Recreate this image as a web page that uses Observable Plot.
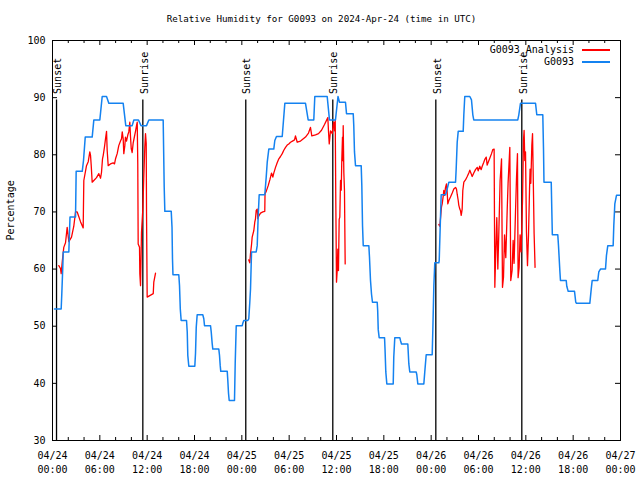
<!DOCTYPE html>
<html>
<head>
<meta charset="utf-8">
<script src="https://cdn.jsdelivr.net/npm/d3@7"></script>
<script src="https://cdn.jsdelivr.net/npm/@observablehq/plot@0.6"></script>
<style>
  body { margin: 0; background: #fff; }
  #wrap { position: relative; width: 640px; height: 480px; }
  .lg-text { position: absolute; font: 10px "DejaVu Sans Mono", monospace; line-height: 12px; color: #000; text-align: right; white-space: pre; }
  .lg-line { position: absolute; }
</style>
</head>
<body>
<div id="wrap"></div>
<script>
// ---------- chart text ----------
const title = "Relative Humidity for G0093 on 2024-Apr-24 (time in UTC)";
const yLabel = "Percentage";
const seriesNames = ["G0093_Analysis", "G0093"];
const seriesColors = ["#ff0000", "#1482f0"];

// ---------- axes ----------
const startDate = "2024-04-24T00:00:00Z";
const spanHours = 72;
const labelHours = [0, 6, 12, 18, 24, 30, 36, 42, 48, 54, 60, 66, 72];
const minorHours = [2, 4, 8, 10, 14, 16, 20, 22, 26, 28, 32, 34, 38, 40, 44, 46, 50, 52, 56, 58, 62, 64, 68, 70];
const yTicks = [30, 40, 50, 60, 70, 80, 90, 100];

// ---------- sun events (hours since start) ----------
const sunLabels = ["Sunset", "Sunrise", "Sunset", "Sunrise", "Sunset", "Sunrise"];
const sunHours = [0.51, 11.45, 24.50, 35.53, 48.59, 59.49];
const sunLineTop = 89.6;

// ---------- G0093 observations [hour, %] ----------
const observed = [
  [0.25,53],[1.10,53],[1.18,55.7],[1.31,60.6],[1.36,63],[2.07,63],[2.22,69.1],[2.92,69.1],[3.00,77.1],[3.77,77.1],
  [3.93,79],[4.15,83.1],[5.03,83.1],[5.24,86.1],[6.00,86.1],[6.30,90.2],[6.85,90.2],[7.14,89],[8.96,89],[9.29,85.1],
  [10.10,85.1],[10.31,86.1],[10.90,86.1],[11.22,85.1],[11.92,85.1],[12.21,86.1],[14.03,86.1],[14.16,74.3],[14.24,70.1],[15.05,70.1],
  [15.15,67.3],[15.21,61.8],[15.27,59],[16.01,59],[16.10,57.1],[16.20,53],[16.31,51],[16.99,51],[17.08,49],[17.15,44.9],
  [17.28,43],[18.04,43],[18.13,45.3],[18.22,49.8],[18.34,52],[19.05,52],[19.18,51.3],[19.27,50.1],[20.03,50.1],[20.12,49],
  [20.24,47],[20.32,46],[21.08,46],[21.17,44.9],[21.26,43.1],[21.33,42.1],[22.15,42.1],[22.22,40.6],[22.31,38.3],[22.40,37],
  [23.07,37],[23.16,43.5],[23.29,50.1],[24.05,50.1],[24.12,50.5],[24.25,51],[24.76,51],[24.88,51.3],[25.01,54.2],[25.10,56.5],
  [25.23,63],[25.82,63],[25.95,64.1],[26.07,69.1],[26.20,73],[26.91,73],[27.09,76.1],[27.22,78.7],[27.42,81],[28.05,81],
  [28.18,82.5],[28.39,83.2],[29.12,83.2],[29.45,89],[32.07,89],[32.41,86.1],[33.12,86.1],[33.25,90.2],[34.82,90.2],[35.11,86.1],
  [35.87,86.1],[36.19,90.2],[36.38,89.2],[37.14,89.2],[37.27,87.2],[38.12,87.2],[38.19,85.1],[38.28,80.5],[38.41,78.1],[39.13,78.1],
  [39.21,74.6],[39.30,67.6],[39.39,64.1],[40.10,64.1],[40.18,62.1],[40.31,58],[40.44,55.6],[40.56,54.2],[41.16,54.2],[41.22,52.75],
  [41.29,49.4],[41.41,48],[42.09,48],[42.15,46],[42.25,42],[42.38,39.9],[43.19,39.9],[43.26,44.6],[43.39,48],[44.03,48],
  [44.11,47.5],[44.24,46.9],[45.04,46.9],[45.17,43.4],[45.29,42],[46.10,42],[46.18,41.5],[46.31,39.9],[47.07,39.9],[47.19,42],
  [47.37,45],[48.13,45],[48.21,49.25],[48.34,57.1],[48.46,61.1],[48.97,61.1],[49.02,61.5],[49.15,67.6],[49.27,73],[49.82,73],
  [49.94,73.5],[50.24,75.2],[51.09,75.2],[51.17,77.5],[51.30,82.2],[51.43,84.1],[52.06,84.1],[52.14,87],[52.26,90.2],[52.90,90.2],
  [53.11,89.6],[53.28,87],[53.40,86.1],[58.98,86.1],[59.11,87],[59.32,89],[61.23,89],[61.39,87],[62.15,87],[62.24,81],
  [62.30,75.2],[63.22,75.2],[63.29,70.5],[63.36,66],[64.05,66],[64.14,64.1],[64.31,59.75],[64.39,58],[65.12,58],[65.19,57],
  [65.37,56.1],[66.17,56.1],[66.33,54.2],[66.42,54],[68.11,54],[68.29,56.5],[68.41,58],[69.12,58],[69.25,59.5],[69.46,60],
  [70.10,60],[70.22,62.4],[70.39,64.1],[71.07,64.1],[71.15,67.6],[71.28,71.4],[71.49,72.9],[71.91,72.9]
];

// ---------- G0093_Analysis, one array per night [hour, %] ----------
const analysisNight1 = [
  [0.80,60.6],[1.01,60.1],[1.10,59.2],[1.23,61.2],[1.43,63.8],[1.65,64.6],[1.86,67.3],[2.07,64.8],[2.41,65.6],[2.70,67.5],
  [2.92,70],[3.13,70],[3.33,69.2],[3.55,68.3],[3.89,67.2],[3.92,70.4],[3.97,75.5],[4.31,78.1],[4.53,78.8],[4.73,80.5],
  [4.82,79.9],[4.91,78.1],[5.03,75.2],[5.24,75.5],[5.58,76],[5.87,76.7],[6.09,75.9],[6.21,76.9],[6.34,79.3],[6.43,79.9],
  [6.59,81.4],[6.72,82.8],[6.85,84.1],[6.93,80.8],[7.06,78.1],[7.35,78.4],[7.69,78.6],[7.86,78.4],[7.99,79.3],[8.20,80.2],
  [8.40,81.6],[8.62,82.4],[8.75,82.8],[8.84,84],[8.96,82.8],[9.04,80.2],[9.17,81.6],[9.25,83.1],[9.38,82.4],[9.55,83.5],
  [9.67,84],[9.80,85.7],[9.89,83.1],[9.98,81.1],[10.10,80.4],[10.23,82.1],[10.39,83.2],[10.52,84.1],[10.65,85.1],[10.74,85.7],
  [10.81,78.4],[10.86,64.4],[11.03,63.8],[11.07,59.2],[11.16,57.1],[11.28,66.4],[11.45,70.5],[11.57,76],[11.70,81.3],[11.79,83.7],
  [11.88,82],[11.92,69.7],[12.00,55.1],[12.77,55.7],[12.84,57.7],[13.06,59.3]
];
const analysisNight2 = [
  [24.88,61.6],[25.01,61.1],[25.10,62.7],[25.23,64.3],[25.31,65.6],[25.52,66.75],[25.64,68.2],[25.73,68.8],[25.82,70.25],[25.95,70.5],
  [26.02,68.8],[26.15,69.3],[26.37,69.8],[26.66,70],[26.91,70.1],[26.94,73.2],[27.09,73.6],[27.34,74.6],[27.55,75.6],[27.76,76.8],
  [27.93,76.1],[28.05,76.8],[28.27,77.8],[28.48,78.6],[28.69,79.3],[28.90,79.7],[29.12,80.2],[29.32,80.8],[29.54,81.3],[29.75,81.7],
  [29.95,81.9],[30.17,82.2],[30.42,82.4],[30.68,82.6],[30.80,83.3],[31.02,82.2],[31.44,82.4],[32.07,83.1],[32.45,83.8],[32.70,84.8],
  [32.87,83.3],[33.34,83.5],[33.72,83.7],[34.10,84.3],[34.48,85.3],[34.90,86.5],[34.99,84],[35.08,81.9],[35.24,84.2],[35.46,83.7],
  [35.58,85.1],[35.66,85.7],[35.75,84.2],[35.84,86],[35.91,72],[36.00,57.7],[36.09,59.75],[36.17,63.5],[36.25,59.75],[36.34,68.7],
  [36.42,69.1],[36.51,75.5],[36.60,73.8],[36.67,79],[36.76,83.1],[36.80,79],[36.85,85.1],[36.93,76.9],[37.01,73.8],[37.10,60.9]
];
const analysisNight3 = [
  [48.97,67.8],[49.09,67.5],[49.18,68.8],[49.31,70.9],[49.40,71.4],[49.53,72.8],[49.60,73.75],[49.69,72.9],[49.82,74.3],[49.94,74.9],
  [50.03,73.5],[50.11,71.4],[50.24,72],[50.45,72.6],[50.67,73.3],[50.87,74],[51.09,74.3],[51.21,74],[51.30,73.1],[51.43,72],
  [51.50,71.2],[51.63,70.5],[51.72,70.2],[51.81,69.4],[51.93,70.5],[52.01,73.75],[52.14,75.2],[52.35,75.6],[52.57,76.2],[52.77,76.8],
  [52.90,77.3],[53.07,76.7],[53.20,76.2],[53.40,76.8],[53.62,77.4],[53.84,77.8],[53.96,77.2],[54.16,78],[54.34,77.4],[54.47,78],
  [54.67,78.7],[54.80,79.2],[54.98,79.6],[55.10,78.2],[55.23,78.7],[55.43,79.4],[55.65,80.2],[55.81,80.9],[55.98,81],[56.07,56.8],
  [56.19,63],[56.32,69],[56.45,60],[56.57,66],[56.74,75.5],[56.92,79.3],[57.04,56.8],[57.17,58.6],[57.30,66],[57.46,62],
  [57.63,70],[57.75,75],[57.97,81.3],[58.09,58],[58.26,59.75],[58.39,65],[58.51,61],[58.69,70],[58.82,76],[58.94,80.2],
  [59.02,58.5],[59.15,60.3],[59.27,66],[59.40,63],[59.58,72],[59.70,82.5],[59.78,84.25],[59.87,79],[59.96,80.5],[60.08,66.5],
  [60.21,60.6],[60.34,66],[60.47,74],[60.54,77.5],[60.63,75],[60.76,81.6],[60.85,83.7],[60.92,77.8],[61.05,66.2],[61.17,60.3]
];

// ---------- helpers ----------
const t0 = Date.parse(startDate);
const T = h => new Date(t0 + h * 3600e3);
const rows = pairs => pairs.map(([h, v]) => ({t: T(h), v}));
const sunEvents = sunLabels.map((label, i) => ({label, t: T(sunHours[i])}));
const fmtDay = d3.utcFormat("%m/%d");
const fmtTime = d3.utcFormat("%H:%M");

const majorDates = labelHours.map(T);
const minorDates = minorHours.map(T);

const chart = Plot.plot({
  width: 640,
  height: 480,
  marginLeft: 52,
  marginRight: 20,
  marginTop: 40,
  marginBottom: 40,
  style: {fontFamily: "'DejaVu Sans Mono', monospace", fontSize: "10px", color: "#000", background: "#fff", overflow: "visible"},
  x: {type: "utc", domain: [T(0), T(spanHours)]},
  y: {domain: [30, 100]},
  marks: [
    Plot.axisX(majorDates, {anchor: "bottom", tickSize: 0, tickPadding: 9, lineHeight: 1.4,
      tickFormat: d => fmtDay(d) + "\n" + fmtTime(d), label: null}),
    Plot.axisY(yTicks, {anchor: "left", tickSize: 0, tickPadding: 7, label: null}),
    // inward tick marks (mirrored like gnuplot)
    Plot.tickX(majorDates, {x: d => d, insetTop: 395, stroke: "#000"}),
    Plot.tickX(majorDates, {x: d => d, insetBottom: 395, stroke: "#000"}),
    Plot.tickX(minorDates, {x: d => d, insetTop: 397, stroke: "#000"}),
    Plot.tickX(minorDates, {x: d => d, insetBottom: 397, stroke: "#000"}),
    Plot.tickY(yTicks, {y: d => d, insetRight: 563, stroke: "#000"}),
    Plot.tickY(yTicks, {y: d => d, insetLeft: 563, stroke: "#000"}),
    // sunrise / sunset
    Plot.ruleX(sunEvents, {x: "t", y1: 30, y2: sunLineTop, stroke: "#000", strokeWidth: 1.3}),
    Plot.text(sunEvents, {x: "t", y: sunLineTop, text: "label", rotate: -90, textAnchor: "start", dy: -6, dx: 1.5, fill: "#000"}),
    // series
    Plot.line(rows(analysisNight1), {x: "t", y: "v", stroke: seriesColors[0], strokeWidth: 1.3}),
    Plot.line(rows(analysisNight2), {x: "t", y: "v", stroke: seriesColors[0], strokeWidth: 1.3}),
    Plot.line(rows(analysisNight3), {x: "t", y: "v", stroke: seriesColors[0], strokeWidth: 1.3}),
    Plot.line(rows(observed), {x: "t", y: "v", stroke: seriesColors[1], strokeWidth: 1.5}),
    Plot.frame({stroke: "#000"}),
    // titles
    Plot.text([title], {frameAnchor: "top", lineAnchor: "middle", dy: -21, dx: -15, fontSize: 9.2, fill: "#000"}),
    Plot.text([yLabel], {frameAnchor: "left", dx: -42, rotate: -90, fill: "#000"})
  ]
});

const wrap = document.getElementById("wrap");
wrap.appendChild(chart);

// legend (top-right, inside the frame)
seriesNames.forEach((name, i) => {
  const cy = 50 + 12 * i;
  const txt = document.createElement("div");
  txt.className = "lg-text";
  txt.style.right = (640 - 574) + "px";
  txt.style.top = (cy - 6) + "px";
  txt.textContent = name;
  wrap.appendChild(txt);
  const ln = document.createElement("div");
  ln.className = "lg-line";
  ln.style.left = "582px";
  ln.style.width = "28px";
  ln.style.top = (cy - 0.75) + "px";
  ln.style.height = "1.5px";
  ln.style.background = seriesColors[i];
  wrap.appendChild(ln);
});
</script>
</body>
</html>
